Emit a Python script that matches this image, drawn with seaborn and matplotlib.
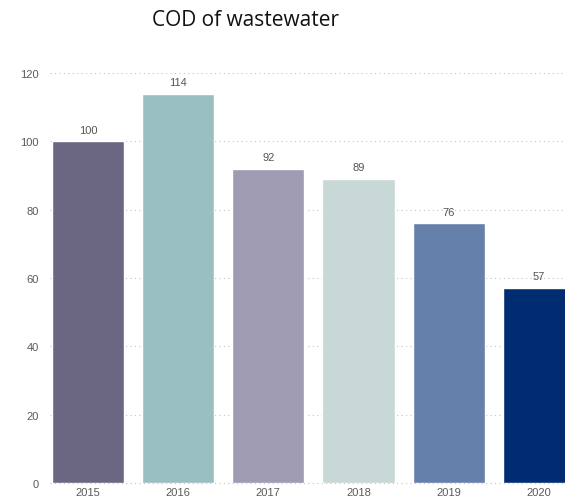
import matplotlib
matplotlib.use("Agg")
import matplotlib.pyplot as plt
import seaborn as sns
import pandas as pd

years = ["2015", "2016", "2017", "2018", "2019", "2020"]
values = [100, 114, 92, 89, 76, 57]
colors = ["#6B6783", "#9ABFC0", "#9E9BB3", "#C8D8D7", "#6680AC", "#002D72"]
yticks = [0, 20, 40, 60, 80, 100, 120]
title = "COD of wastewater"

sns.set_theme(style="white")
plt.rcParams['font.family'] = ['Liberation Sans', 'DejaVu Sans']

df = pd.DataFrame({"year": years, "value": values})

fig = plt.figure(figsize=(5.65, 5.02), dpi=100)
ax = fig.add_axes([50/565, 18/502, 515/565, 410/502])

sns.barplot(data=df, x="year", y="value", hue="year", palette=colors,
            legend=False, width=0.8, saturation=1, ax=ax, zorder=3)

ax.set_xlim(-0.42, 5.29)
ax.set_ylim(0, 120)
ax.set_yticks(yticks)
ax.set_yticklabels([str(t) for t in yticks])
for t in yticks:
    ax.axhline(t, color="#C4C4C4", linestyle=(0, (1, 3)), linewidth=0.8, zorder=1, clip_on=False)

for i, v in enumerate(values):
    ax.text(i, v + 2.0, str(v), ha="center", va="bottom", fontsize=8, color="#555555", zorder=4)

for s in ax.spines.values():
    s.set_visible(False)
ax.set_xlabel("")
ax.set_ylabel("")
ax.tick_params(axis="both", length=0, labelsize=8, colors="#5A5A5A")
ax.tick_params(axis="y", pad=8)
ax.tick_params(axis="x", pad=3)

fig.text(246/565, 1 - 21/502, title, ha="center", va="center", fontsize=15,
         family=["Open Sans", "DejaVu Sans"], color="#111111")

fig.savefig("out.png", dpi=100)
